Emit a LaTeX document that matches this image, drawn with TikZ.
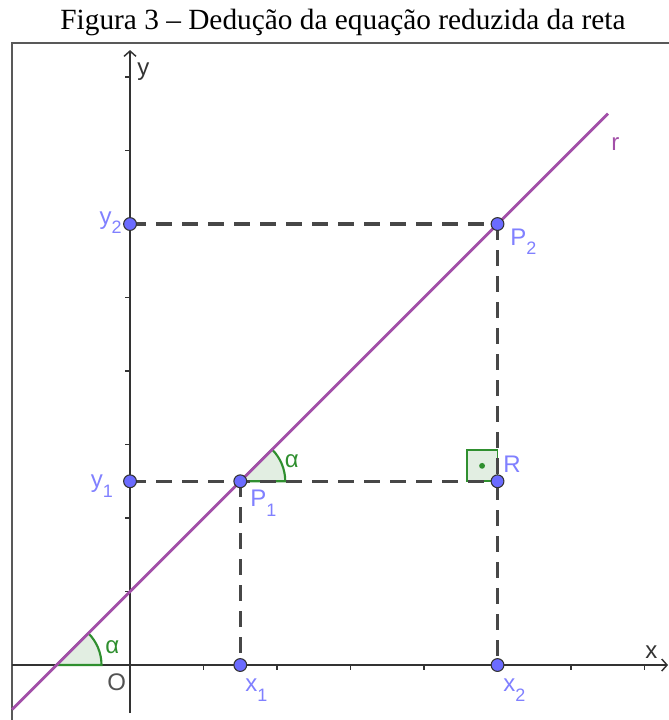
\documentclass[tikz,border=0pt]{standalone}
\usepackage{fontspec}
\setmainfont{Liberation Serif}
\setsansfont{Liberation Sans}
\usepackage{tikz}
\usetikzlibrary{arrows.meta,calc}
\definecolor{ptblu}{HTML}{6B6BFF}
\definecolor{lblblu}{HTML}{8080FF}
\definecolor{purp}{HTML}{A24FA8}
\definecolor{grn}{HTML}{2F8F2F}
\definecolor{grnfill}{HTML}{E2EEE2}
\definecolor{axgray}{HTML}{333333}
\newcommand{\ix}[1]{\raisebox{-7pt}{\fontsize{13.5}{13.5}\selectfont #1}}

\begin{document}
\begin{tikzpicture}[x=55.125pt,y=55.125pt,
  lbl/.style={anchor=base west,inner sep=0pt,font=\sffamily\fontsize{18}{18}\selectfont},
  dashln/.style={axgray!90,line width=2.3pt,dash pattern=on 12pt off 7.5pt},
  angl/.style={draw=grn,fill=grnfill,line width=1.6pt}]
  \useasboundingbox (-1.769,-0.748) rectangle (7.333,9.048);
  % title and frame
  \node[font=\fontsize{22}{22}\selectfont] (title) at (2.898,8.748) {Figura 3 -- Dedução da equação reduzida da reta};
  \draw[black!65,line width=0.9pt] (-1.605,-0.8) -- (-1.605,8.463) -- (7.4,8.463);
  % axes
  \coordinate (xa) at (-1.605,0); \coordinate (xb) at (7.32,0);
  \coordinate (ya) at (0,-0.653); \coordinate (yb) at (0,8.367);
  \draw[axgray,line width=1.1pt,-{Straight Barb[length=4pt,width=9pt]}] (xa) -- (xb);
  \draw[axgray,line width=1.1pt,-{Straight Barb[length=4pt,width=9pt]}] (ya) -- (yb);
  \foreach \k in {1,...,7} \draw[axgray,line width=1pt] (\k,0) -- (\k,-0.07);
  \foreach \k in {1,...,8} \draw[axgray,line width=1pt] (0,\k) -- (-0.07,\k);
  % points
  \coordinate (A) at (-1,0);
  \coordinate (P1) at (1.5,2.5);
  \coordinate (P2) at (5,6);
  \coordinate (R) at (5,2.5);
  \coordinate (y1) at (0,2.5);
  \coordinate (y2) at (0,6);
  \coordinate (x1) at (1.5,0);
  \coordinate (x2) at (5,0);
  \coordinate (rA) at (-1.605,-0.605);
  \coordinate (rB) at (6.503,7.503);
  % angles
  \draw[angl] (A) -- ++(0.612,0) arc (0:45:0.612) -- cycle;
  \draw[angl] (P1) -- ++(0.612,0) arc (0:45:0.612) -- cycle;
  \draw[angl,line width=1.4pt] (R) rectangle ++(-0.42,0.42);
  \fill[grn] ($(R)+(-0.21,0.21)$) circle (2.2pt);
  % dashed projections
  \draw[dashln] (y2) -- (P2);
  \draw[dashln] (P2) -- (x2);
  \draw[dashln] (y1) -- (R);
  \draw[dashln] (P1) -- (x1);
  % line r
  \draw[purp,line width=2.1pt] (rA) -- (rB);
  \foreach \p in {y2,P2,R,P1,y1,x1,x2}
    \filldraw[fill=ptblu,draw=black!80,line width=0.8pt] (\p) circle (4.8pt);
  % labels
  \node[lbl,text=axgray] (lx) at (7.007,0.082) {x};
  \node[lbl,text=axgray] (ly) at (0.095,8.027) {y};
  \node[lbl,text=axgray!85] (lO) at (-0.313,-0.340) {O};
  \node[lbl,text=purp] (lr) at (6.544,7.007) {r};
  \node[lbl,text=grn] (la1) at (-0.340,0.163) {α};
  \node[lbl,text=grn] (la2) at (2.102,2.694) {α};
  \node[lbl,text=lblblu] (lP1) at (1.633,2.150) {P\ix{1}};
  \node[lbl,text=lblblu] (lP2) at (5.17,5.714) {P\ix{2}};
  \node[lbl,text=lblblu] (lR) at (5.075,2.626) {R};
  \node[lbl,text=lblblu,anchor=base east] (ly1) at (-0.23,2.41) {y\ix{1}};
  \node[lbl,text=lblblu,anchor=base east] (ly2) at (-0.11,6.0) {y\ix{2}};
  \node[lbl,text=lblblu] (lx1) at (1.565,-0.367) {x\ix{1}};
  \node[lbl,text=lblblu] (lx2) at (5.075,-0.367) {x\ix{2}};
\end{tikzpicture}
\end{document}
